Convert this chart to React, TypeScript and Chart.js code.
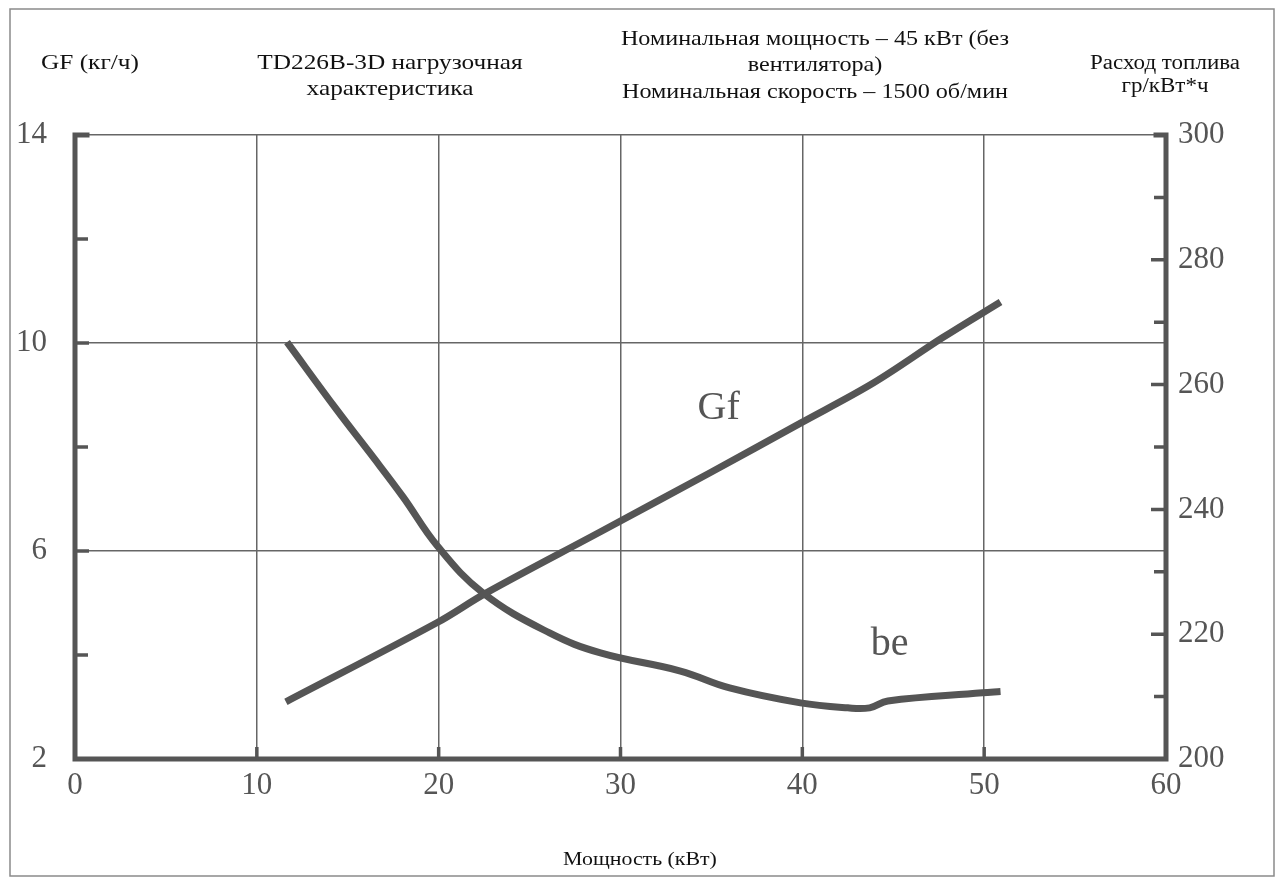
import React, { useEffect, useRef } from "react";
import { Chart, registerables } from "chart.js";

Chart.register(...registerables);

// ---- data ----
const gfPower = [11.6, 19.9, 22.6, 28.9, 34.9, 39.9, 43.9, 47.7, 50.9];
const gfValues = [3.1, 4.62, 5.19, 6.37, 7.5, 8.46, 9.23, 10.1, 10.79];

const bePower = [11.66, 14.41, 16.23, 18.04, 19.91, 22.44, 26.1, 28.9, 33.3, 36.0, 39.9, 42.5, 43.7, 44.7, 49.9, 50.9];
const beValues = [266.8, 255.9, 249.0, 242.0, 234.2, 226.6, 220.2, 217.0, 214.1, 211.4, 209.0, 208.2, 208.2, 209.3, 210.6, 210.8];

const xTicks = [0, 10, 20, 30, 40, 50, 60];
const leftTicks = [2, 6, 10, 14];
const leftMinorTicks = [4, 8, 12];
const rightTicks = [200, 220, 240, 260, 280, 300];
const rightMinorTicks = [210, 230, 250, 270, 290];
const bottomInnerTicks = [10, 20, 30, 40, 50];

const gfLabel = { text: "Gf", x: 35.4, y: 8.75 };
const beLabel = { text: "be", x: 44.8, y: 218.4 };

const SERIF = "'Liberation Serif', 'Times New Roman', serif";
const INK = "#555555";

const decorPlugin = {
  id: "decor",
  beforeDraw(chart: any) {
    const { ctx, width, height } = chart;
    ctx.save();
    ctx.fillStyle = "#ffffff";
    ctx.fillRect(0, 0, width, height);
    ctx.strokeStyle = "#8a8a8a";
    ctx.lineWidth = 1.5;
    ctx.strokeRect(10, 9, 1264, 867);
    ctx.restore();
  },
  beforeDatasetsDraw(chart: any) {
    const { ctx, chartArea, scales } = chart;
    const { left, right, top, bottom } = chartArea;
    const x = scales.x, y = scales.y, y1 = scales.y1;
    ctx.save();
    ctx.strokeStyle = INK;
    ctx.lineCap = "square";
    ctx.lineWidth = 5;
    ctx.beginPath();
    ctx.moveTo(left + 12, top);
    ctx.lineTo(left, top);
    ctx.lineTo(left, bottom);
    ctx.lineTo(right, bottom);
    ctx.lineTo(right, top);
    ctx.lineTo(right - 10, top);
    ctx.stroke();
    ctx.lineCap = "butt";
    ctx.lineWidth = 3.5;
    ctx.beginPath();
    leftMinorTicks.forEach((v) => {
      const py = y.getPixelForValue(v);
      ctx.moveTo(left, py);
      ctx.lineTo(left + 13, py);
    });
    leftTicks.forEach((v) => {
      if (v === leftTicks[0]) return;
      const py = y.getPixelForValue(v);
      ctx.moveTo(left, py);
      ctx.lineTo(left + 14, py);
    });
    rightMinorTicks.forEach((v) => {
      const py = y1.getPixelForValue(v);
      ctx.moveTo(right, py);
      ctx.lineTo(right - 12, py);
    });
    rightTicks.forEach((v) => {
      if (v === rightTicks[0] || v === rightTicks[rightTicks.length - 1]) return;
      const py = y1.getPixelForValue(v);
      ctx.moveTo(right, py);
      ctx.lineTo(right - 15, py);
    });
    bottomInnerTicks.forEach((v) => {
      const px = x.getPixelForValue(v);
      ctx.moveTo(px, bottom);
      ctx.lineTo(px, bottom - 12);
    });
    ctx.stroke();
    ctx.restore();
  },
  afterDatasetsDraw(chart: any) {
    const { ctx, scales } = chart;
    ctx.save();
    ctx.fillStyle = INK;
    ctx.font = `40px ${SERIF}`;
    ctx.textAlign = "center";
    ctx.textBaseline = "middle";
    ctx.fillText(gfLabel.text, scales.x.getPixelForValue(gfLabel.x), scales.y.getPixelForValue(gfLabel.y));
    ctx.fillText(beLabel.text, scales.x.getPixelForValue(beLabel.x), scales.y1.getPixelForValue(beLabel.y));
    ctx.restore();
  },
};

function Label(props: { x: number; y: number; size: number; children: React.ReactNode }) {
  return (
    <div
      style={{
        position: "absolute",
        left: props.x,
        top: props.y,
        transform: "translate(-50%, -50%) scaleX(1.15)",
        whiteSpace: "nowrap",
        fontFamily: SERIF,
        fontSize: props.size,
        color: "#111",
        lineHeight: 1,
      }}
    >
      {props.children}
    </div>
  );
}

export default function App() {
  const canvasRef = useRef<HTMLCanvasElement | null>(null);

  useEffect(() => {
    const canvas = canvasRef.current;
    if (!canvas) return;
    const tickFont = { family: SERIF, size: 31 };
    const chart = new Chart(canvas, {
      type: "line",
      data: {
        datasets: [
          {
            label: "Gf",
            data: gfPower.map((p, i) => ({ x: p, y: gfValues[i] })),
            yAxisID: "y",
            borderColor: INK,
            borderWidth: 7,
            pointRadius: 0,
            tension: 0.35,
            fill: false,
          },
          {
            label: "be",
            data: bePower.map((p, i) => ({ x: p, y: beValues[i] })),
            yAxisID: "y1",
            borderColor: INK,
            borderWidth: 7,
            pointRadius: 0,
            tension: 0.4,
            fill: false,
          },
        ],
      },
      options: {
        responsive: false,
        animation: false,
        devicePixelRatio: 1,
        layout: { padding: { top: 135, left: 0, right: 0, bottom: 0 } },
        plugins: { legend: { display: false }, tooltip: { enabled: false }, title: { display: false } },
        scales: {
          x: {
            type: "linear",
            min: 0,
            max: 60,
            afterBuildTicks: (s: any) => {
              s.ticks = xTicks.map((v) => ({ value: v }));
            },
            afterFit: (s: any) => {
              s.height = 122;
            },
            ticks: { font: tickFont, color: INK, padding: 8 },
            grid: {
              drawTicks: false,
              lineWidth: 1.5,
              color: (c: any) => (c.tick && (c.tick.value === 0 || c.tick.value === 60) ? "rgba(0,0,0,0)" : "#666"),
            },
            border: { display: false },
          },
          y: {
            type: "linear",
            position: "left",
            min: 2,
            max: 14,
            afterBuildTicks: (s: any) => {
              s.ticks = leftTicks.map((v) => ({ value: v }));
            },
            afterFit: (s: any) => {
              s.width = 75;
            },
            ticks: { font: tickFont, color: INK, padding: 28 },
            grid: {
              drawTicks: false,
              lineWidth: 1.5,
              color: (c: any) => (c.tick && c.tick.value === 2 ? "rgba(0,0,0,0)" : "#666"),
            },
            border: { display: false },
          },
          y1: {
            type: "linear",
            position: "right",
            min: 200,
            max: 300,
            afterBuildTicks: (s: any) => {
              s.ticks = rightTicks.map((v) => ({ value: v }));
            },
            afterFit: (s: any) => {
              s.width = 116;
            },
            ticks: { font: tickFont, color: INK, padding: 12 },
            grid: { display: false, drawTicks: false },
            border: { display: false },
          },
        },
      },
      plugins: [decorPlugin],
    } as any);
    return () => chart.destroy();
  }, []);

  return (
    <div style={{ position: "absolute", left: 0, top: 0, width: 1282, height: 881, background: "#fff", overflow: "hidden" }}>
      <canvas ref={canvasRef} width={1282} height={881} style={{ position: "absolute", left: 0, top: 0, width: 1282, height: 881 }} />
      <Label x={90} y={62} size={22}>GF (кг/ч)</Label>
      <Label x={390} y={62} size={22}>TD226B-3D нагрузочная</Label>
      <Label x={390} y={88} size={22}>характеристика</Label>
      <Label x={815} y={38} size={21}>Номинальная мощность – 45 кВт (без</Label>
      <Label x={815} y={64} size={21}>вентилятора)</Label>
      <Label x={815} y={91} size={21}>Номинальная скорость – 1500 об/мин</Label>
      <Label x={1165} y={62} size={20}>Расход топлива</Label>
      <Label x={1165} y={85} size={20}>гр/кВт*ч</Label>
      <Label x={640} y={858} size={19}>Мощность (кВт)</Label>
    </div>
  );
}
